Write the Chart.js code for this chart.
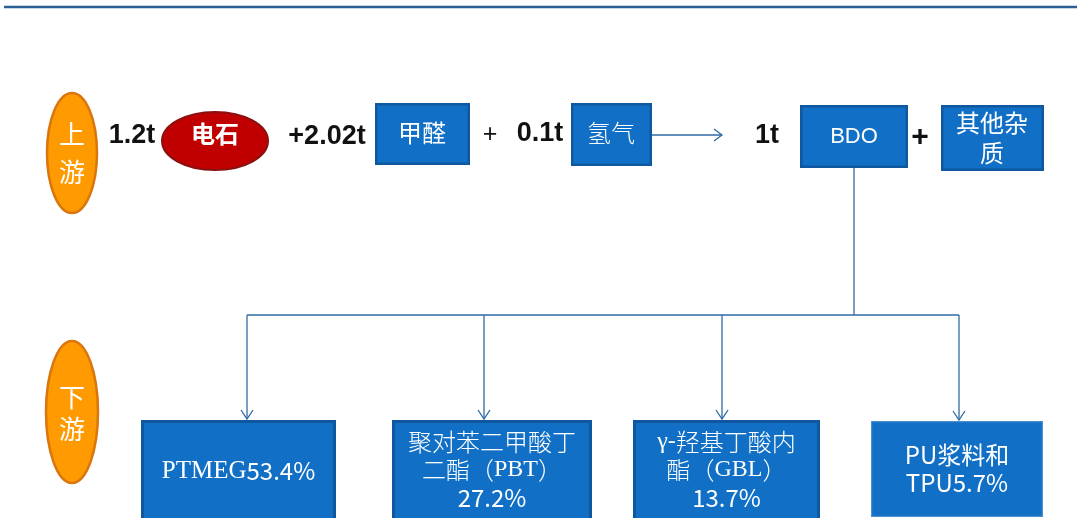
<!DOCTYPE html>
<html>
<head>
<meta charset="utf-8">
<script src="https://cdn.jsdelivr.net/npm/chart.js@4/dist/chart.umd.min.js"></script>
<style>
  html, body { margin: 0; padding: 0; background: #ffffff; }
  canvas { display: block; }
</style>
</head>
<body>
<canvas id="flow" width="1077" height="518"></canvas>
<script>
// data
const upstreamInputs = ["电石", "甲醛", "氢气"];
const upstreamAmounts = ["1.2t", "+2.02t", "0.1t"];
const productName = "BDO";
const productAmount = "1t";
const byproductName = "其他杂质";
const downstreamProducts = ["PTMEG", "聚对苯二甲酸丁二酯（PBT）", "γ-羟基丁酸内酯（GBL）", "PU浆料和TPU"];
const downstreamShares = [53.4, 27.2, 13.7, 5.7];

// layout (chart units = px, y grows downward)
const inputBoxes = [null, [375, 103, 470, 165], [571, 103, 652, 166]];
const amountPos = [[132, 136], [327, 137], [540, 134]];
const bdoBox = [800, 105, 908, 168];
const byproductBox = [941, 105, 1044, 171];
const busY = 315;
const downBoxes = [[141, 420, 336, 522], [392, 420, 592, 522], [633, 420, 820, 522], [871, 421, 1043, 517]];
const downArrowX = [247, 484, 722, 959];

const SANS = '"Noto Sans CJK SC", "Noto Sans", sans-serif';
const SERIF = '"Liberation Serif", serif';
const BOX_FILL = "#1170c6";
const BOX_EDGE = "#0f58a0";
const LINE = "#2f6aa7";

const pct = (v) => v.toFixed(1) + "%";
// runs: [text, family, weight]
const downLines = [
  [[[downstreamProducts[0], SERIF, 400, 25], [pct(downstreamShares[0]), SANS, 400, 24]]],
  [[[downstreamProducts[1].slice(0, 7), SANS, 300]], [["二酯（", SANS, 300], ["PBT", SERIF, 400], ["）", SANS, 300]], [[pct(downstreamShares[1]), SANS, 400]]],
  [[["γ-", SERIF, 400], [downstreamProducts[2].slice(2, 7), SANS, 300]], [["酯（", SANS, 300], ["GBL", SERIF, 400], ["）", SANS, 300]], [[pct(downstreamShares[2]), SANS, 400]]],
  [[[downstreamProducts[3].slice(0, 5), SANS, 400]], [["TPU" + pct(downstreamShares[3]), SANS, 400]]]
];
const downLineY = [[471], [442, 470, 498], [442, 470, 498], [455, 483]];

const diagramPlugin = {
  id: "diagram",
  afterDraw(chart) {
    const { ctx } = chart;
    const sx = chart.scales.x, sy = chart.scales.y;
    const px = (v) => sx.getPixelForValue(v);
    const py = (v) => sy.getPixelForValue(v);

    const rect = (b, fill, edge, lw) => {
      const x0 = px(b[0]), y0 = py(b[1]), x1 = px(b[2]), y1 = py(b[3]);
      ctx.fillStyle = fill;
      ctx.fillRect(x0, y0, x1 - x0, y1 - y0);
      ctx.strokeStyle = edge;
      ctx.lineWidth = lw;
      ctx.strokeRect(x0 + lw / 2, y0 + lw / 2, x1 - x0 - lw, y1 - y0 - lw);
    };
    const ellipse = (cx, cy, rx, ry, fill, edge, lw) => {
      ctx.beginPath();
      ctx.ellipse(px(cx), py(cy), rx, ry, 0, 0, Math.PI * 2);
      ctx.fillStyle = fill;
      ctx.fill();
      ctx.strokeStyle = edge;
      ctx.lineWidth = lw;
      ctx.stroke();
    };
    const text = (s, cx, cy, font, color) => {
      ctx.font = font;
      ctx.fillStyle = color;
      ctx.textAlign = "center";
      ctx.textBaseline = "middle";
      ctx.fillText(s, px(cx), py(cy));
    };
    // centred line made of runs in different families
    const runs = (parts, cx, cy, size, color) => {
      ctx.textBaseline = "middle";
      ctx.textAlign = "left";
      ctx.fillStyle = color;
      const fontOf = (p) => `${p[2]} ${p[3] || size}px ${p[1]}`;
      let total = 0;
      parts.forEach((p) => { ctx.font = fontOf(p); total += ctx.measureText(p[0]).width; });
      let x = px(cx) - total / 2;
      parts.forEach((p) => {
        ctx.font = fontOf(p);
        ctx.fillText(p[0], x, py(cy));
        x += ctx.measureText(p[0]).width;
      });
    };
    const seg = (x0, y0, x1, y1) => {
      ctx.beginPath();
      ctx.moveTo(px(x0), py(y0));
      ctx.lineTo(px(x1), py(y1));
      ctx.stroke();
    };
    const chevronDown = (x, y) => {
      ctx.beginPath();
      ctx.moveTo(px(x) - 6, py(y) - 9);
      ctx.lineTo(px(x), py(y));
      ctx.lineTo(px(x) + 6, py(y) - 9);
      ctx.stroke();
    };

    ctx.save();

    // header rule
    ctx.strokeStyle = "#2a5e94";
    ctx.lineWidth = 2.5;
    seg(4, 7, 1077, 7);

    // connectors
    ctx.strokeStyle = LINE;
    ctx.lineWidth = 1.3;
    seg(652, 135, 722, 135);
    ctx.beginPath();
    ctx.moveTo(px(714), py(129));
    ctx.lineTo(px(722), py(135));
    ctx.lineTo(px(714), py(141));
    ctx.stroke();
    const bdoMid = (bdoBox[0] + bdoBox[2]) / 2;
    seg(bdoMid, bdoBox[3], bdoMid, busY);
    seg(downArrowX[0], busY, downArrowX[downArrowX.length - 1], busY);
    downArrowX.forEach((x, i) => {
      const top = downBoxes[i][1] - 1;
      seg(x, busY, x, top);
      chevronDown(x, top);
    });

    // stage ellipses
    ellipse(72, 153, 25, 60, "#ff9a00", "#d9760e", 2.5);
    ellipse(72, 412, 26, 71, "#ff9a00", "#d9760e", 2.5);
    text("上", 72, 134, `26px ${SANS}`, "#ffffff");
    text("游", 72, 172, `26px ${SANS}`, "#ffffff");
    text("下", 72, 397, `26px ${SANS}`, "#ffffff");
    text("游", 72, 429, `26px ${SANS}`, "#ffffff");

    // upstream row
    ellipse(215, 141, 53, 29, "#c00000", "#8a1010", 2);
    text(upstreamInputs[0], 215, 134, `bold 24px ${SANS}`, "#ffffff");
    upstreamAmounts.forEach((a, i) => {
      text(a, amountPos[i][0], amountPos[i][1], `bold 27px "Liberation Sans", sans-serif`, "#111111");
    });
    text("+", 490, 135, `25px "Liberation Sans", sans-serif`, "#111111");
    rect(inputBoxes[1], BOX_FILL, BOX_EDGE, 2.5);
    text(upstreamInputs[1], 422, 133, `24px ${SANS}`, "#ffffff");
    rect(inputBoxes[2], BOX_FILL, BOX_EDGE, 2.5);
    text(upstreamInputs[2], 611, 133, `300 24px ${SANS}`, "#ffffff");

    text(productAmount, 767, 136, `bold 27px "Liberation Sans", sans-serif`, "#111111");
    rect(bdoBox, BOX_FILL, BOX_EDGE, 2.5);
    text(productName, bdoMid, 137, `22px "Liberation Sans", sans-serif`, "#ffffff");
    text("+", 920, 138, `bold 30px "Liberation Sans", sans-serif`, "#111111");
    rect(byproductBox, BOX_FILL, BOX_EDGE, 2.5);
    text(byproductName.slice(0, 3), 992, 123, `24px ${SANS}`, "#ffffff");
    text(byproductName.slice(3), 992, 153, `24px ${SANS}`, "#ffffff");

    // downstream boxes
    downBoxes.forEach((b, i) => {
      if (i === 3) rect(b, BOX_FILL, "#4d8fd0", 1.2);
      else rect(b, BOX_FILL, BOX_EDGE, 3);
      const cx = (b[0] + b[2]) / 2;
      downLines[i].forEach((line, k) => runs(line, cx, downLineY[i][k], 24, "#ffffff"));
    });

    ctx.restore();
  }
};

new Chart(document.getElementById("flow").getContext("2d"), {
  type: "scatter",
  data: {
    datasets: [{
      label: "nodes",
      data: downArrowX.map((x) => ({ x: x, y: busY })),
      pointRadius: 0
    }]
  },
  options: {
    responsive: false,
    animation: false,
    events: [],
    layout: { padding: 0 },
    scales: {
      x: { type: "linear", min: 0, max: 1077, display: false },
      y: { type: "linear", min: 0, max: 518, reverse: true, display: false }
    },
    plugins: {
      legend: { display: false },
      tooltip: { enabled: false }
    }
  },
  plugins: [diagramPlugin]
});
</script>
</body>
</html>
